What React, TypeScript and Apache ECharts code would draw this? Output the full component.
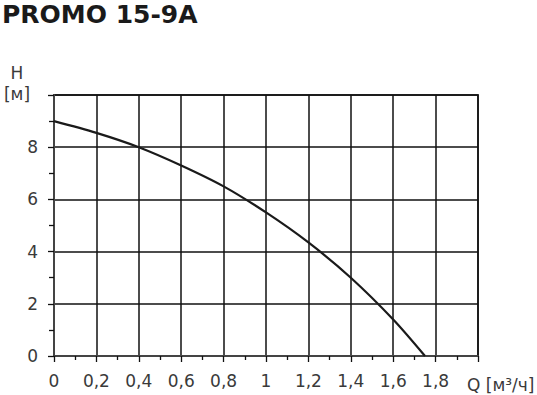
import React, { useEffect, useRef } from "react";
import * as echarts from "echarts";

const flowQ = [0, 0.2, 0.4, 0.6, 0.8, 1.0, 1.2, 1.4, 1.6, 1.75];
const headH = [9.0, 8.55, 8.0, 7.3, 6.5, 5.5, 4.35, 3.0, 1.4, 0];
const titleText = "PROMO 15-9A";
const yName = ["H", "[м]"];
const xName = "Q [м³/ч]";

export default function App() {
  const ref = useRef<HTMLDivElement>(null);
  useEffect(() => {
    const chart = echarts.init(ref.current!, null, { renderer: "svg" });
    const font = "DejaVu Sans, Verdana, sans-serif";
    chart.setOption({
      animation: false,
      backgroundColor: "#fff",
      textStyle: { fontFamily: font },
      grid: {
        left: 54,
        top: 95,
        width: 424,
        height: 261,
        show: true,
        borderColor: "#444",
        borderWidth: 2,
        backgroundColor: "transparent",
      },
      xAxis: {
        type: "value",
        min: 0,
        max: 2,
        interval: 0.2,
        axisLine: { show: true, lineStyle: { color: "#444", width: 2 } },
        axisTick: { show: true, length: 6, lineStyle: { color: "#111", width: 1.3 } },
        minorTick: { show: true, splitNumber: 2, length: 4, lineStyle: { color: "#111", width: 1.3 } },
        splitLine: { show: true, lineStyle: { color: "#111", width: 1.5 } },
        axisLabel: {
          color: "#3a3a3a",
          fontSize: 17,
          margin: 16,
          fontFamily: font,
          formatter: (v: number) =>
            Math.abs(v - 2) < 1e-6 ? "" : String(Math.round(v * 10) / 10).replace(".", ","),
        },
      },
      yAxis: {
        type: "value",
        min: 0,
        max: 10,
        interval: 2,
        axisLine: { show: true, lineStyle: { color: "#444", width: 2 } },
        axisTick: { show: true, length: 6, lineStyle: { color: "#111", width: 1.3 } },
        minorTick: { show: true, splitNumber: 2, length: 5, lineStyle: { color: "#111", width: 1.3 } },
        splitLine: { show: true, lineStyle: { color: "#111", width: 1.5 } },
        axisLabel: {
          color: "#3a3a3a",
          fontSize: 17,
          margin: 16,
          fontFamily: font,
          formatter: (v: number) => (v >= 10 ? "" : String(v)),
        },
      },
      series: [
        {
          type: "line",
          data: flowQ.map((q, i) => [q, headH[i]]),
          smooth: 0.3,
          showSymbol: false,
          lineStyle: { color: "#1a1a1a", width: 2.2 },
        },
      ],
      graphic: [
        {
          type: "text",
          left: 2,
          top: 2,
          style: { text: titleText, font: `bold 25px ${font}`, fill: "#1a1a1a" },
        },
        {
          type: "text",
          x: 17,
          y: 73,
          style: { text: yName[0], font: `17px ${font}`, fill: "#3a3a3a", align: "center", verticalAlign: "middle" },
        },
        {
          type: "text",
          x: 17,
          y: 94,
          style: { text: yName[1], font: `17px ${font}`, fill: "#3a3a3a", align: "center", verticalAlign: "middle" },
        },
        {
          type: "text",
          x: 467,
          y: 385,
          style: { text: xName, font: `17px ${font}`, fill: "#3a3a3a", align: "left", verticalAlign: "middle" },
        },
      ],
    });
    return () => chart.dispose();
  }, []);
  return (
    <div
      ref={ref}
      style={{ position: "fixed", left: 0, top: 0, width: 537, height: 395 }}
    />
  );
}
